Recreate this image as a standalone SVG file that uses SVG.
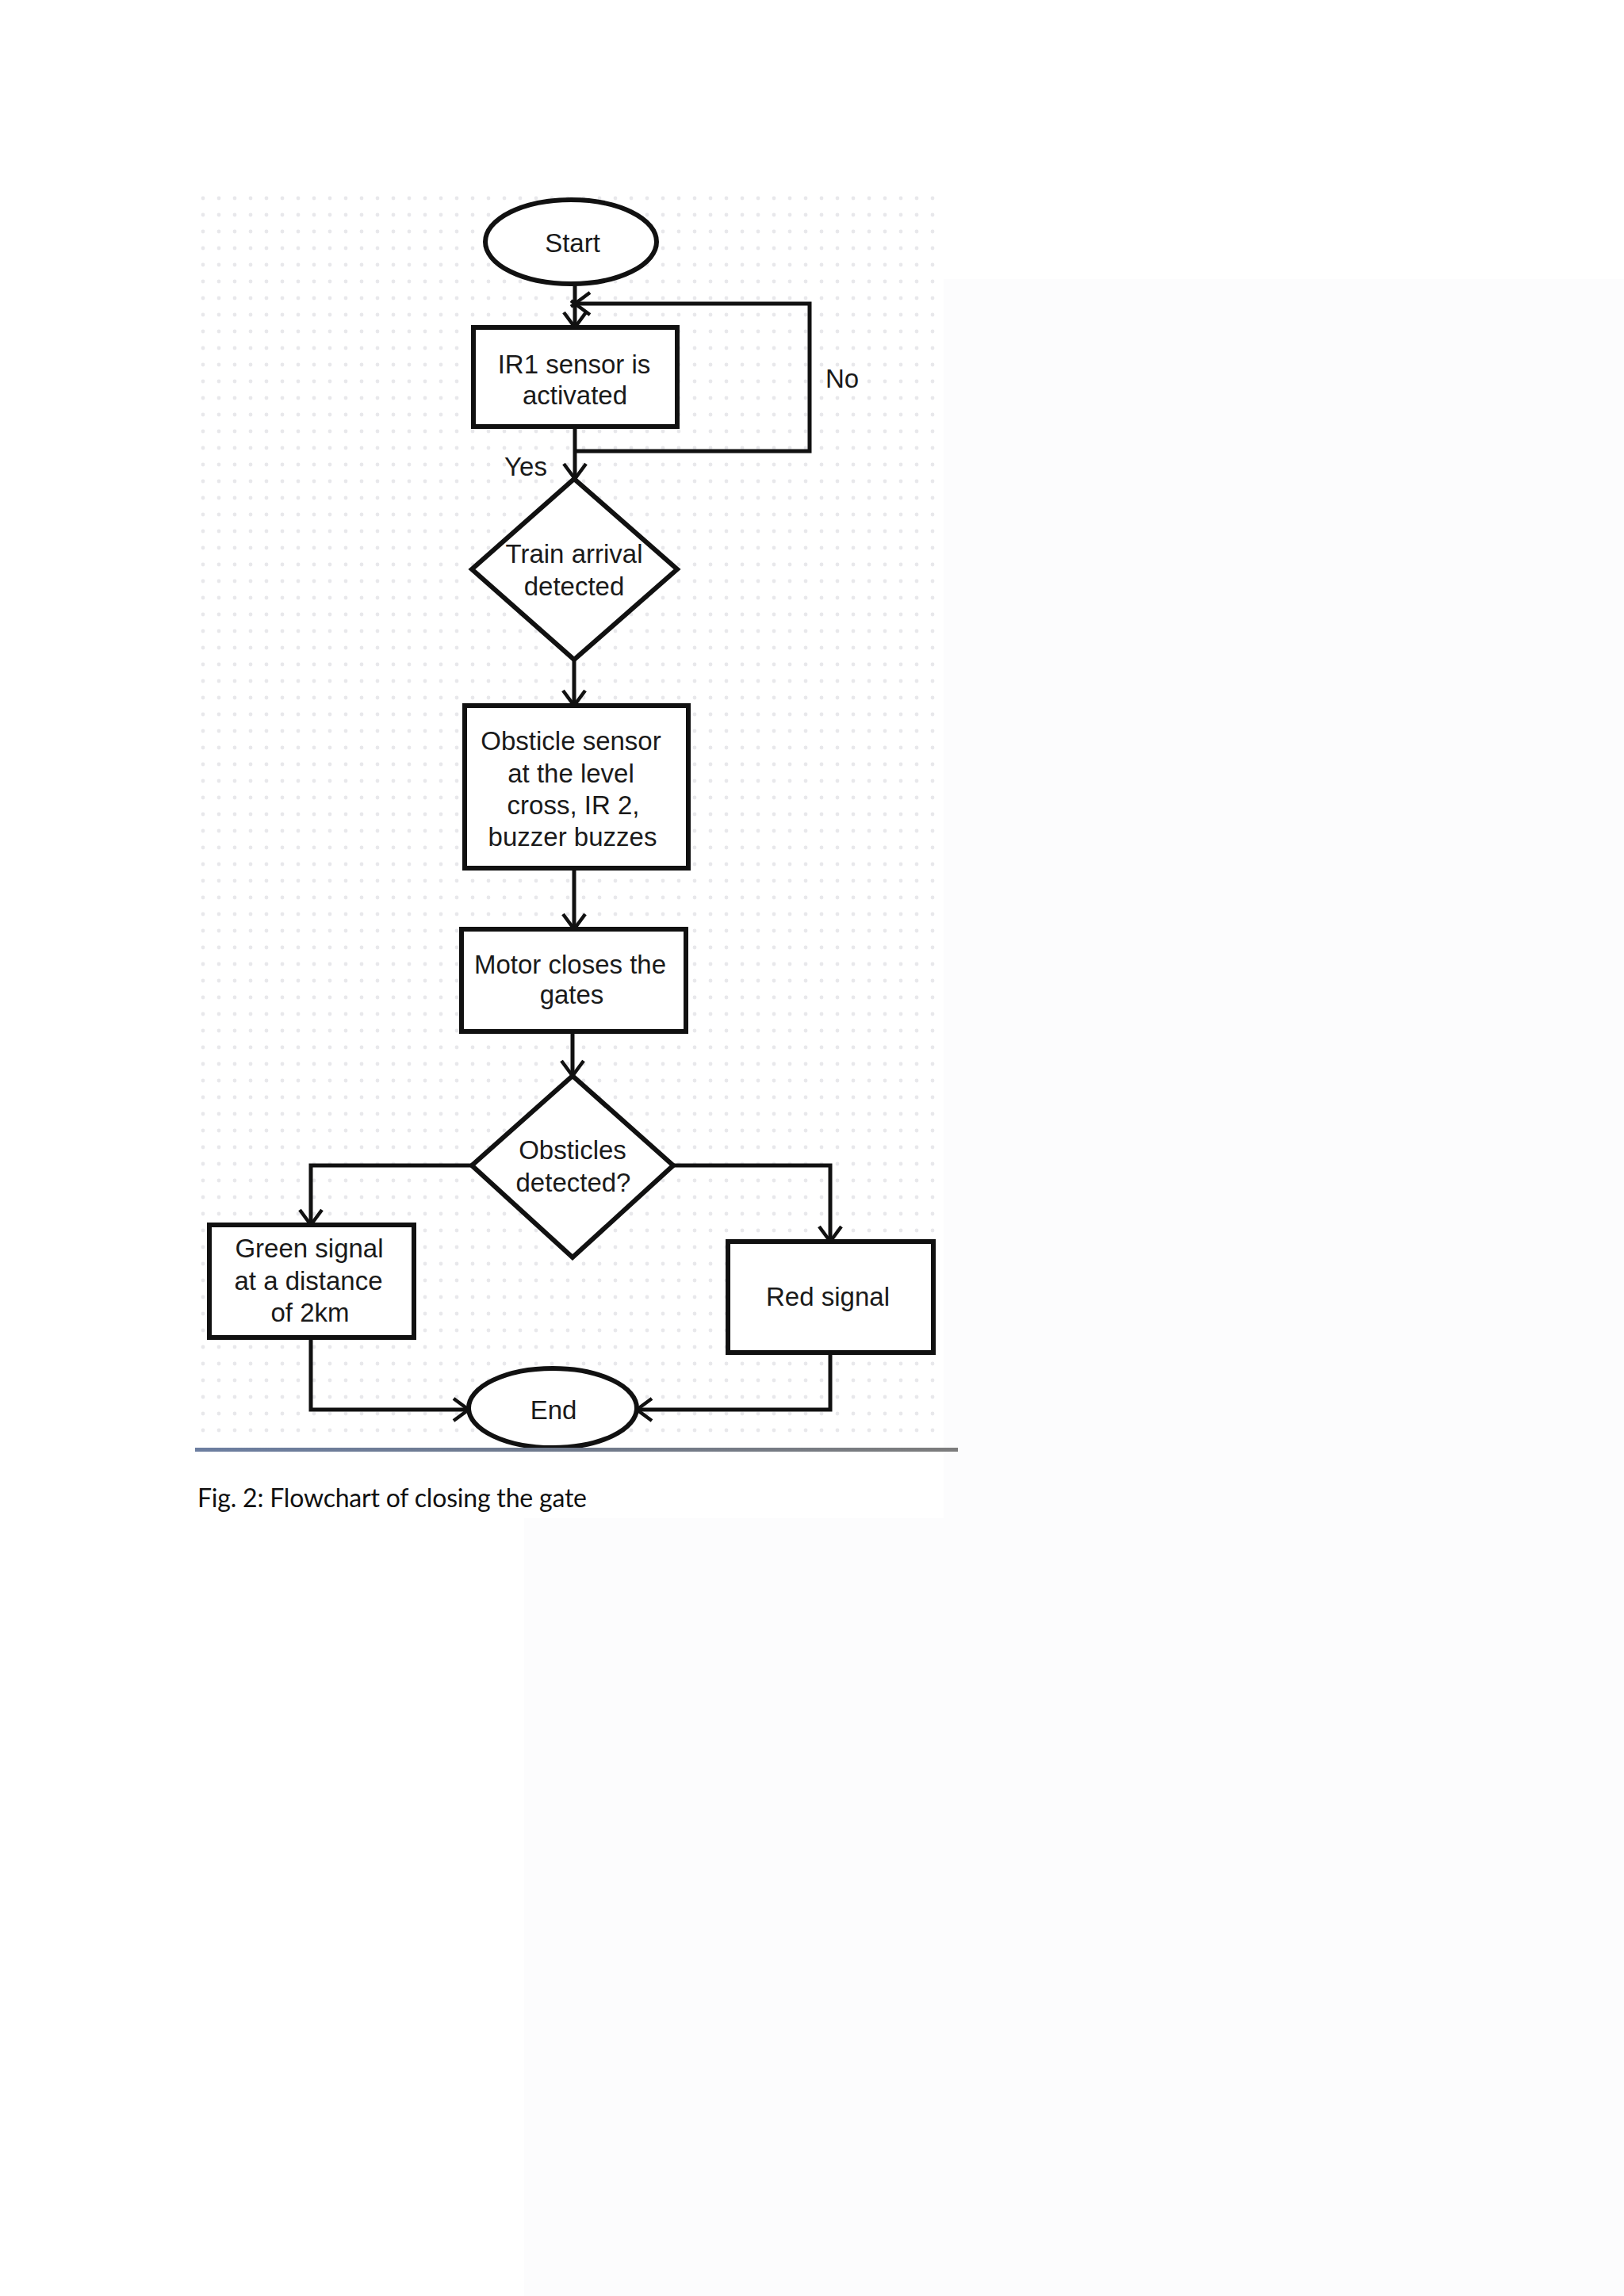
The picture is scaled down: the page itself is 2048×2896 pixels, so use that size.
<svg xmlns="http://www.w3.org/2000/svg" width="2048" height="2896" viewBox="0 0 2048 2896">
  <defs>
    <style>
      .shape { fill: #ffffff; stroke: #111111; stroke-width: 6; }
      .conn { fill: none; stroke: #111111; stroke-width: 5; stroke-linejoin: miter; }
      .lbl { font-family: "Liberation Sans", Arial, sans-serif; font-size: 33px; fill: #1a1a1a; text-anchor: middle; }
      .cap { font-family: Lato, "Open Sans", "Liberation Sans", sans-serif; font-size: 32px; fill: #111111; }
    </style>
    <marker id="arr" viewBox="-22 -16 30 32" markerWidth="30" markerHeight="32" refX="0" refY="0" orient="auto" markerUnits="userSpaceOnUse">
      <path d="M-19,-14 L5,3.7 M-19,14 L5,-3.7" fill="none" stroke="#111111" stroke-width="4.5"/>
    </marker>
    <pattern id="dots" x="246" y="240" width="20" height="21" patternUnits="userSpaceOnUse">
      <circle cx="10" cy="10" r="2.4" fill="#e4e4e8"/>
    </pattern>
    <linearGradient id="rule" x1="0" y1="0" x2="1" y2="0">
      <stop offset="0" stop-color="#6c7ea0"/>
      <stop offset="0.5" stop-color="#707a8c"/>
      <stop offset="1" stop-color="#7c7c7c"/>
    </linearGradient>
  </defs>

  <!-- page background -->
  <rect x="0" y="0" width="2048" height="2896" fill="#ffffff"/>
  <rect x="1190" y="352" width="858" height="2544" fill="#fcfcfd"/>
  <rect x="661" y="1915" width="1387" height="981" fill="#fcfcfd"/>

  <!-- faint dotted background of the figure -->
  <rect x="246" y="240" width="944" height="1580" fill="url(#dots)" opacity="0.85"/>

  <!-- connectors -->
  <g id="connectors">
    <path class="conn" d="M725,358 L725,413" marker-end="url(#arr)"/>
    <path class="conn" d="M725,538 L725,604" marker-end="url(#arr)"/>
    <path class="conn" d="M725,569 L1021,569 L1021,383 L725,383" marker-end="url(#arr)"/>
    <path class="conn" d="M724,832 L724,890" marker-end="url(#arr)"/>
    <path class="conn" d="M724,1095 L724,1172" marker-end="url(#arr)"/>
    <path class="conn" d="M722,1301 L722,1357" marker-end="url(#arr)"/>
    <path class="conn" d="M595,1470 L392,1470 L392,1545" marker-end="url(#arr)"/>
    <path class="conn" d="M849,1470 L1047,1470 L1047,1566" marker-end="url(#arr)"/>
    <path class="conn" d="M392,1687 L392,1778 L591,1778" marker-end="url(#arr)"/>
    <path class="conn" d="M1047,1706 L1047,1778 L803,1778" marker-end="url(#arr)"/>
    <text class="lbl" x="1062" y="489">No</text>
    <text class="lbl" x="663" y="600">Yes</text>
  </g>

  <g id="start">
    <ellipse class="shape" cx="720" cy="305" rx="108" ry="53"/>
    <text class="lbl" x="722" y="318">Start</text>
  </g>

  <g id="ir1">
    <rect class="shape" x="597" y="413" width="257" height="125"/>
    <text class="lbl" x="724" y="471">IR1 sensor is</text>
    <text class="lbl" x="725" y="510">activated</text>
  </g>

  <g id="train-arrival">
    <polygon class="shape" points="724,604 854,718 724,832 595,718"/>
    <text class="lbl" x="724" y="710">Train arrival</text>
    <text class="lbl" x="724" y="751">detected</text>
  </g>

  <g id="obstacle-sensor">
    <rect class="shape" x="586" y="890" width="282" height="205"/>
    <text class="lbl" x="720" y="946">Obsticle sensor</text>
    <text class="lbl" x="720" y="987">at the level</text>
    <text class="lbl" x="723" y="1027">cross, IR 2,</text>
    <text class="lbl" x="722" y="1067">buzzer buzzes</text>
  </g>

  <g id="motor">
    <rect class="shape" x="582" y="1172" width="283" height="129"/>
    <text class="lbl" x="719" y="1228">Motor closes the</text>
    <text class="lbl" x="721" y="1266">gates</text>
  </g>

  <g id="obstacles-detected">
    <polygon class="shape" points="722,1357 849,1470 722,1586 595,1470"/>
    <text class="lbl" x="722" y="1462">Obsticles</text>
    <text class="lbl" x="723" y="1503">detected?</text>
  </g>

  <g id="green-signal">
    <rect class="shape" x="264" y="1545" width="258" height="142"/>
    <text class="lbl" x="390" y="1586">Green signal</text>
    <text class="lbl" x="389" y="1627">at a distance</text>
    <text class="lbl" x="391" y="1667">of 2km</text>
  </g>

  <g id="red-signal">
    <rect class="shape" x="918" y="1566" width="259" height="140"/>
    <text class="lbl" x="1044" y="1647">Red signal</text>
  </g>

  <g id="end">
    <ellipse class="shape" cx="697" cy="1776" rx="106" ry="50"/>
    <text class="lbl" x="698" y="1790">End</text>
  </g>

  <!-- figure bottom rule and caption -->
  <rect x="246" y="1826" width="962" height="5" fill="url(#rule)"/>
  <text class="cap" x="249" y="1901" textLength="491" lengthAdjust="spacing">Fig. 2: Flowchart of closing the gate</text>
</svg>
